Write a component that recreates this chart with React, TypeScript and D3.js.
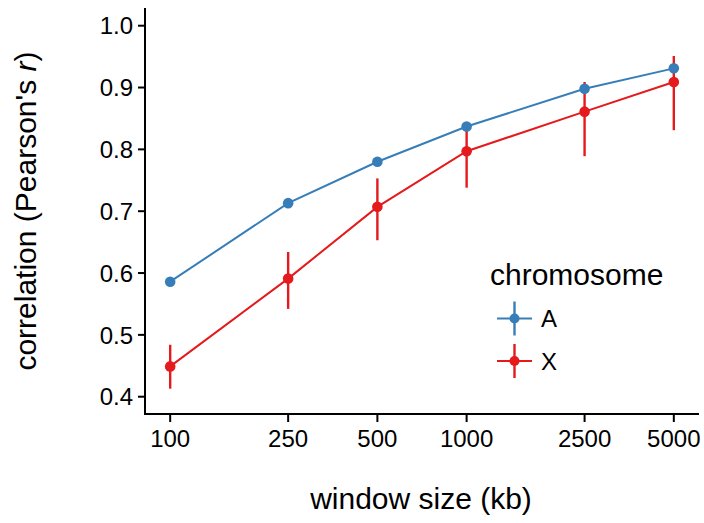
import React from "react";
import * as d3 from "d3";

const windowSizes = [100, 250, 500, 1000, 2500, 5000];
const seriesNames = ["A", "X"];
const meanA = [0.586, 0.713, 0.780, 0.837, 0.898, 0.931];
const lowA = [0.582, 0.709, 0.776, 0.833, 0.894, 0.927];
const highA = [0.590, 0.717, 0.784, 0.841, 0.902, 0.935];
const meanX = [0.449, 0.591, 0.707, 0.797, 0.861, 0.909];
const lowX = [0.413, 0.542, 0.653, 0.738, 0.789, 0.831];
const highX = [0.484, 0.634, 0.753, 0.842, 0.909, 0.951];
const yTicks = [0.4, 0.5, 0.6, 0.7, 0.8, 0.9, 1.0];
const xTicks = [100, 250, 500, 1000, 2500, 5000];
const colors = ["#377EB8", "#E41A1C"];

const FONT = "'Liberation Sans', Arial, Helvetica, sans-serif";

export default function App() {
  const W = 704, H = 523;
  const left = 145, right = 699, top = 8, bottom = 414;
  const expand = 0.08495;
  const x = d3.scaleLog().domain([100 / Math.pow(10, expand), 5000 * Math.pow(10, expand)]).range([left, right]);
  const y = d3.scaleLinear().domain([0.4, 1.0]).range([396.7, 25.7]);

  const series = [
    { name: seriesNames[0], mean: meanA, low: lowA, high: highA, color: colors[0] },
    { name: seriesNames[1], mean: meanX, low: lowX, high: highX, color: colors[1] },
  ];
  const line = d3.line<number>().x((_, i) => x(windowSizes[i])).y((d) => y(d));

  return (
    <div style={{ position: "absolute", left: 0, top: 0 }}>
      <svg width={W} height={H} style={{ display: "block", background: "#fff" }} fontFamily={FONT}>
        <rect x={0} y={0} width={W} height={H} fill="#fff" />
        {/* error bars */}
        {series.map((s) =>
          windowSizes.map((w, i) => (
            <line key={s.name + "e" + i} x1={x(w)} x2={x(w)} y1={y(s.low[i])} y2={y(s.high[i])} stroke={s.color} strokeWidth={2.4} />
          ))
        )}
        {/* lines */}
        {series.map((s) => (
          <path key={s.name + "l"} d={line(s.mean) || ""} fill="none" stroke={s.color} strokeWidth={2} />
        ))}
        {/* points */}
        {series.map((s) =>
          windowSizes.map((w, i) => (
            <circle key={s.name + "p" + i} cx={x(w)} cy={y(s.mean[i])} r={5.3} fill={s.color} />
          ))
        )}
        {/* axes */}
        <line x1={left} x2={left} y1={top} y2={bottom + 1} stroke="#000" strokeWidth={2} />
        <line x1={left - 1} x2={right} y1={bottom} y2={bottom} stroke="#000" strokeWidth={2} />
        {yTicks.map((t) => (
          <g key={"yt" + t}>
            <line x1={left - 7} x2={left} y1={y(t)} y2={y(t)} stroke="#000" strokeWidth={2} />
            <text x={left - 12} y={y(t)} dy="0.36em" textAnchor="end" fontSize={24} fill="#000">
              {t.toFixed(1)}
            </text>
          </g>
        ))}
        {xTicks.map((t) => (
          <g key={"xt" + t}>
            <line x1={x(t)} x2={x(t)} y1={bottom} y2={bottom + 8} stroke="#000" strokeWidth={2} />
            <text x={x(t)} y={447} textAnchor="middle" fontSize={24} fill="#000">
              {t}
            </text>
          </g>
        ))}
        <text x={421} y={509} textAnchor="middle" fontSize={30} fill="#000">
          window size (kb)
        </text>
        <text transform={`translate(36, ${(top + bottom) / 2}) rotate(-90)`} textAnchor="middle" fontSize={30} fill="#000">
          correlation (Pearson's <tspan fontStyle="italic">r</tspan>)
        </text>
        {/* legend */}
        <text x={490} y={285} fontSize={30} fill="#000">chromosome</text>
        {series.map((s, i) => {
          const cy = 318.5 + i * 42.5;
          return (
            <g key={s.name + "leg"}>
              <line x1={497} x2={532} y1={cy} y2={cy} stroke={s.color} strokeWidth={2} />
              <line x1={514.5} x2={514.5} y1={cy - 17} y2={cy + 17} stroke={s.color} strokeWidth={2.4} />
              <circle cx={514.5} cy={cy} r={5} fill={s.color} />
              <text x={541} y={cy + 8.5} fontSize={24} fill="#000">{s.name}</text>
            </g>
          );
        })}
      </svg>
    </div>
  );
}
